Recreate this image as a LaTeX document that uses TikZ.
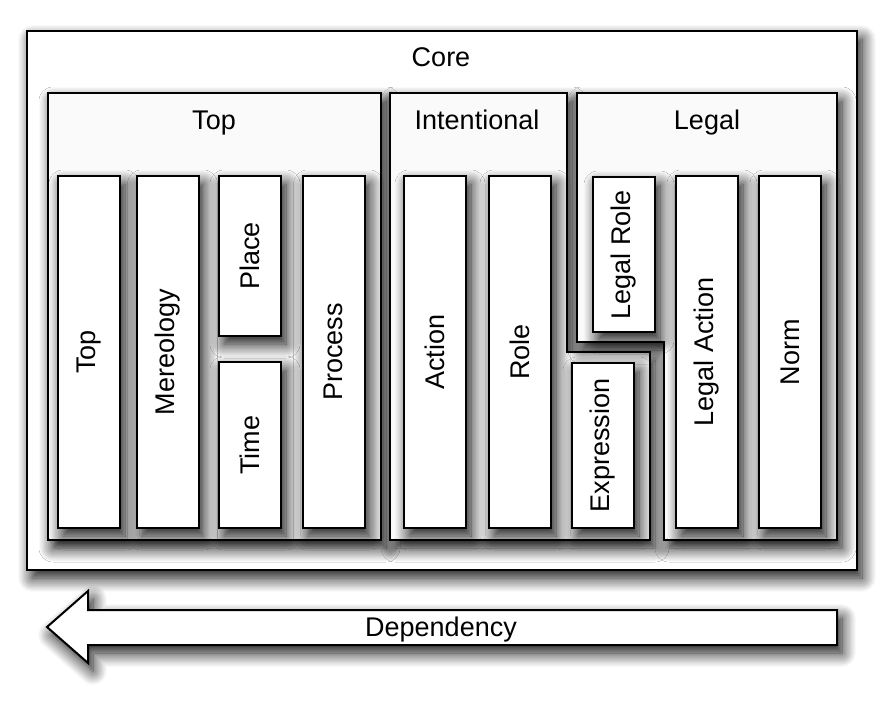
\documentclass[tikz,border=0pt]{standalone}
\usepackage{fontspec}
\setmainfont{Liberation Sans}
\usetikzlibrary{positioning, shadows.blur}

\begin{document}
\begin{tikzpicture}[
		x=0.5pt, y=-0.5pt,
		font=\fontsize{13.5}{16}\selectfont,
		shade/.style={blur shadow={shadow xshift=2.5pt, shadow yshift=-4pt, shadow blur radius=7pt, shadow blur steps=12, shadow opacity=95}},
		core/.style={draw, line width=1pt, fill=white, shade},
		group/.style={draw, line width=1pt, fill=gray!4, shade},
		module/.style={draw, rectangle, line width=1pt, fill=white, shade, minimum width=31pt, minimum height=176pt, inner sep=0pt},
		title/.style={inner sep=1pt, text height=0.75em, text depth=0.22em},
	]
	\useasboundingbox (0, 0) rectangle (888, 714);

	\draw[core] (27, 31) rectangle (857, 570);
	\node[title] (core_label) at (441, 61) {Core};

	\node[group, rectangle, minimum width=166.5pt, minimum height=223.5pt, inner sep=0pt] (top_group) at (214.5, 316.5) {};
	\draw[group] (390, 93) -- (567, 93) -- (567, 352) -- (650, 352) -- (650, 540) -- (390, 540) -- cycle;
	\draw[group] (577, 93) -- (837, 93) -- (837, 540) -- (664, 540) -- (664, 342) -- (577, 342) -- cycle;
	\node[title] (top_label) at (214, 124) {Top};
	\node[title] (intentional_label) at (477, 124) {Intentional};
	\node[title] (legal_label) at (707, 124) {Legal};

	\node[module] (top) at (89, 352) {\rotatebox{90}{Top}};
	\node[module] (mereology) at (167.5, 352) {\rotatebox{90}{Mereology}};
	\node[module, minimum height=80pt] (place) at (250, 256) {\rotatebox{90}{Place}};
	\node[module, minimum height=83pt] (time) at (250, 445) {\rotatebox{90}{Time}};
	\node[module] (process) at (333.5, 352) {\rotatebox{90}{Process}};

	\node[module] (action) at (435, 352) {\rotatebox{90}{Action}};
	\node[module] (role) at (520, 352) {\rotatebox{90}{Role}};
	\node[module, minimum height=82.5pt] (expression) at (603, 445.5) {\rotatebox{90}{Expression}};

	\node[module, minimum height=77.5pt] (legal_role) at (624, 254.5) {\rotatebox{90}{Legal Role}};
	\node[module] (legal_action) at (707, 352) {\rotatebox{90}{Legal Action}};
	\node[module] (norm) at (790, 352) {\rotatebox{90}{Norm}};

	\draw[core] (837, 610) -- (88, 610) -- (88, 591) -- (47, 627) -- (88, 663) -- (88, 645) -- (837, 645) -- cycle;
	\node[title] (dependency) at (441, 631) {Dependency};
\end{tikzpicture}
\end{document}
